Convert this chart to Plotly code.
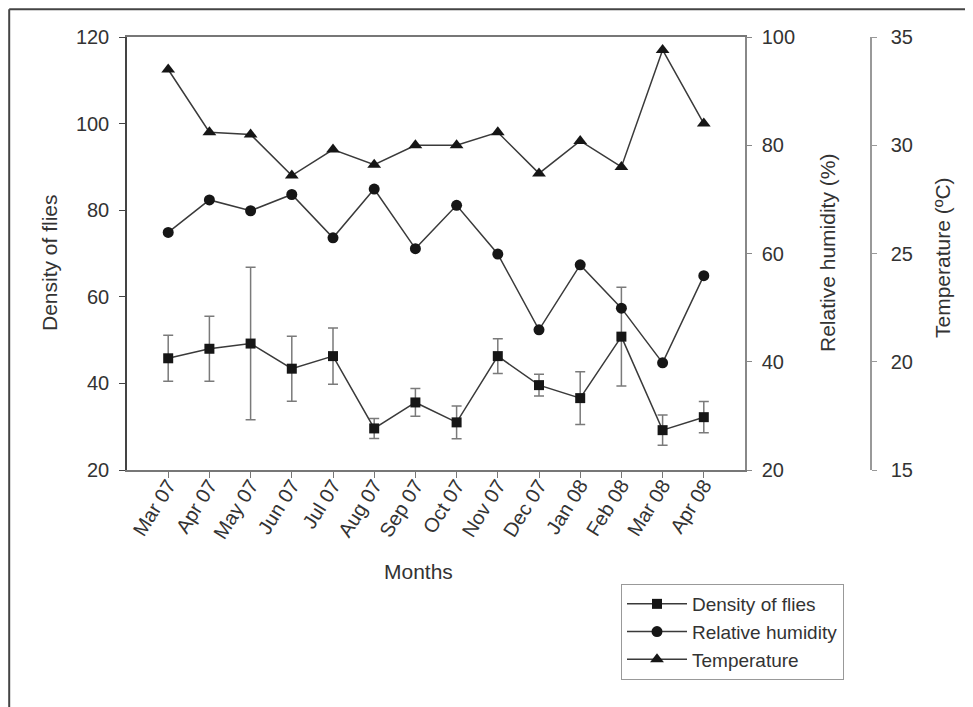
import plotly.graph_objects as go

months = ["Mar 07", "Apr 07", "May 07", "Jun 07", "Jul 07", "Aug 07", "Sep 07",
          "Oct 07", "Nov 07", "Dec 07", "Jan 08", "Feb 08", "Mar 08", "Apr 08"]
density = [45.8, 48.0, 49.2, 43.4, 46.3, 29.6, 35.6, 31.0, 46.3, 39.6, 36.6, 50.8, 29.2, 32.2]
density_err = [5.3, 7.5, 17.6, 7.5, 6.5, 2.3, 3.2, 3.8, 4.0, 2.5, 6.1, 11.4, 3.5, 3.6]
humidity = [63.9, 69.9, 67.9, 70.9, 62.9, 71.9, 60.9, 68.9, 59.9, 45.9, 57.9, 49.9, 39.8, 55.9]
temperature = [33.5, 30.6, 30.5, 28.6, 29.8, 29.1, 30.0, 30.0, 30.6, 28.7, 30.2, 29.0, 34.4, 31.0]

OFF = 8                      # page body margin in the browser
W, H = 973 - OFF, 707 - OFF  # figure size
# page-pixel geometry of the plot
L, R, T, B = 127, 871, 37, 470   # plot left, temp-axis x, top, bottom
PLOT_R = 745
pw, ph = R - L, B - T


def px(x):
    return (x - L) / pw


def py(y):
    return (B - y) / ph


FONT = "Liberation Sans, Arial, sans-serif"
TXT = "#333333"
MK = "#161616"
LN = "#3a3a3a"

fig = go.Figure()
fig.add_trace(go.Scatter(
    x=months, y=density, name="Density of flies", mode="lines+markers",
    line=dict(color=LN, width=1.5),
    marker=dict(symbol="square", size=10, color=MK),
    error_y=dict(type="data", array=density_err, visible=True,
                 color="#7a7a7a", thickness=1.5, width=5),
    yaxis="y"))
fig.add_trace(go.Scatter(
    x=months, y=humidity, name="Relative humidity", mode="lines+markers",
    line=dict(color=LN, width=1.5),
    marker=dict(symbol="circle", size=11, color=MK),
    yaxis="y2"))
fig.add_trace(go.Scatter(
    x=months, y=temperature, name="Temperature", mode="lines+markers",
    line=dict(color=LN, width=1.5),
    marker=dict(symbol="triangle-up", size=12, color=MK),
    yaxis="y3"))

tickfont = dict(family=FONT, size=20, color=TXT)
titlefont = dict(family=FONT, size=21, color=TXT)

fig.update_layout(
    width=W, height=H,
    margin=dict(l=L - OFF, r=OFF + W - R, t=T - OFF, b=OFF + H - B, pad=0),
    paper_bgcolor="white", plot_bgcolor="white",
    showlegend=True,
    hovermode=False,
    xaxis=dict(
        type="category", range=[-1, 14], domain=[0, (PLOT_R - L) / pw],
        showline=True, linecolor="#777777", linewidth=1.5, mirror=True,
        ticks="outside", ticklen=6, tickcolor="#777777", tickwidth=1.2,
        tickangle=-58, tickfont=tickfont, showgrid=False, zeroline=False,
        ticklabelstandoff=-12),
    yaxis=dict(
        range=[20, 120], dtick=20, showline=True, linecolor="#444444", linewidth=1.5,
        ticks="outside", ticklen=6, tickcolor="#444444", tickfont=tickfont,
        showgrid=False, zeroline=False, ticklabelstandoff=6),
    yaxis2=dict(
        range=[20, 100], dtick=20, overlaying="y", side="right", anchor="x",
        showline=True, linecolor="#888888", linewidth=1.5,
        ticks="outside", ticklen=5, tickcolor="#888888", tickfont=tickfont,
        showgrid=False, zeroline=False, ticklabelstandoff=6),
    yaxis3=dict(
        range=[15, 35], dtick=5, overlaying="y", side="right", anchor="free",
        position=1.0, showline=True, linecolor="#999999", linewidth=1.5,
        ticks="outside", ticklen=5, tickcolor="#999999", tickfont=tickfont,
        showgrid=False, zeroline=False, ticklabelstandoff=10),
    legend=dict(
        x=px(621), y=py(584), xanchor="left", yanchor="top",
        bordercolor="#999999", borderwidth=1, bgcolor="white",
        font=dict(family=FONT, size=19, color=TXT),
        tracegroupgap=0, itemwidth=60),
)

annotations = [
    dict(text="Density of flies", x=px(49), y=py(263), textangle=-90),
    dict(text="Relative humidity (%)", x=px(828), y=py(253), textangle=-90),
    dict(text="Temperature (ºC)", x=px(942), y=py(258), textangle=-90),
    dict(text="Months", x=px(418), y=py(571), textangle=0),
]
for a in annotations:
    fig.add_annotation(xref="paper", yref="paper", showarrow=False,
                       xanchor="center", yanchor="middle", font=titlefont, **a)

# outer frame (left and top edges of the figure box), just inside the canvas
FX, FY = OFF + 1.2, OFF + 1.2
fig.add_shape(type="line", xref="paper", yref="paper",
              x0=px(FX), x1=px(FX), y0=py(FY), y1=py(720),
              line=dict(color="#444444", width=2))
fig.add_shape(type="line", xref="paper", yref="paper",
              x0=px(FX), x1=px(990), y0=py(FY), y1=py(FY),
              line=dict(color="#444444", width=2))

fig.write_html("out.html")
